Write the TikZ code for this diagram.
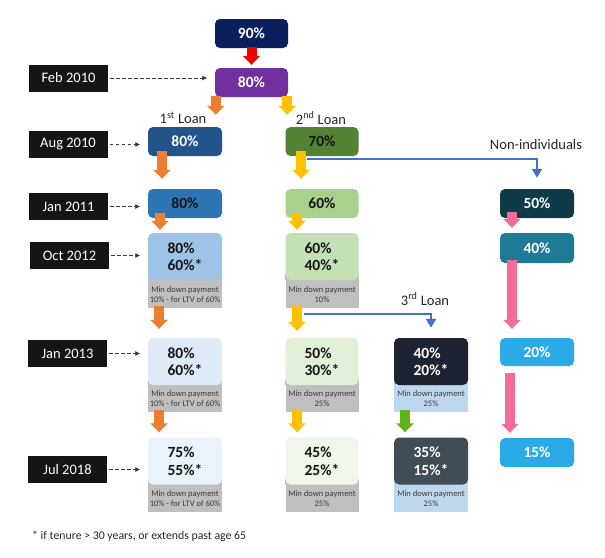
\documentclass[tikz,border=0pt]{standalone}
\usepackage{fontspec}
\setmainfont{Carlito}
\usetikzlibrary{arrows.meta}
\pgfdeclarelayer{bg}
\pgfsetlayers{bg,main}
\definecolor{labblack}{HTML}{151515}
\definecolor{navy}{HTML}{0B1F5E}
\definecolor{purp}{HTML}{7030A0}
\definecolor{redar}{HTML}{F20000}
\definecolor{orar}{HTML}{ED7D31}
\definecolor{yelar}{HTML}{FFC000}
\definecolor{grnar}{HTML}{5FB41C}
\definecolor{pinkar}{HTML}{F46A9B}
\definecolor{conblue}{HTML}{4472C4}
\definecolor{oneA}{HTML}{22538A}
\definecolor{oneB}{HTML}{2E75B6}
\definecolor{oneC}{HTML}{9DC3E6}
\definecolor{oneD}{HTML}{DEEBF7}
\definecolor{oneE}{HTML}{EAF3FB}
\definecolor{twoA}{HTML}{548235}
\definecolor{twoB}{HTML}{A9D18E}
\definecolor{twoC}{HTML}{C5E0B4}
\definecolor{twoD}{HTML}{E2F0D9}
\definecolor{twoE}{HTML}{EFF7EB}
\definecolor{thrD}{HTML}{1D2331}
\definecolor{thrE}{HTML}{424C56}
\definecolor{ltblue}{HTML}{BDD7EE}
\definecolor{graybg}{HTML}{BFBFBF}
\definecolor{nonA}{HTML}{0F3B48}
\definecolor{nonB}{HTML}{1F7A96}
\definecolor{nonC}{HTML}{2AAAE6}
\definecolor{notegray}{HTML}{3A3A3A}
\definecolor{txtdark}{HTML}{141414}
\definecolor{capgray}{HTML}{262626}
\tikzset{
  lab/.style={fill=labblack, text=white, minimum width=79pt, minimum height=27pt, inner sep=0pt, font=\fontsize{14.5}{16}\selectfont},
  pbox/.style={rounded corners=5pt, minimum height=29pt, inner sep=0pt, font=\bfseries\fontsize{15.5}{17.5}\selectfont, align=left},
  twobox/.style={pbox, minimum height=47pt},
  note/.style={inner sep=0pt, font=\fontsize{8.5}{9.8}\selectfont, text=notegray, align=center, anchor=north, minimum height=27pt},
  blk/.style={line width=10pt, -{Triangle[width=17pt,length=9pt]}},
  datt/.style={draw=notegray, line width=0.8pt, dash pattern=on 3.5pt off 2.5pt, -{Triangle[width=4.5pt,length=4.5pt]}, shorten >=8pt, shorten <=2pt},
  bluecon/.style={draw=conblue, line width=2.2pt, -{Triangle[width=10pt,length=9pt]}},
  captext/.style={font=\fontsize{14.5}{16}\selectfont, text=capgray, inner sep=0pt}
}
\begin{document}
\begin{tikzpicture}[x=1pt,y=-1pt]
\useasboundingbox (0,0) rectangle (605,557);
% date labels
\node[lab] (l1) at (68.5,78) {Feb 2010};
\node[lab] (l2) at (68,144.5) {Aug 2010};
\node[lab] (l3) at (68.5,206.5) {Jan 2011};
\node[lab] (l4) at (69.5,255.5) {Oct 2012};
\node[lab] (l5) at (67.5,353.5) {Jan 2013};
\node[lab] (l6) at (67.5,469.5) {Jul 2018};
% top
\node[pbox, fill=navy, text=white, minimum width=73pt] (b90) at (251.5,33.5) {90\%};
\node[pbox, fill=purp, text=white, minimum width=73pt] (b80) at (251.5,82.5) {80\%};
% captions
\node[captext] (cap1) at (183,118) {1\textsuperscript{st} Loan};
\node[captext] (cap2) at (321,118) {2\textsuperscript{nd} Loan};
\node[captext] (cap3) at (425,299) {3\textsuperscript{rd} Loan};
\node[captext] (cap4) at (536,145) {Non-individuals};
% column 1
\node[pbox, fill=oneA, text=white, minimum width=74pt] (a1) at (185,141.5) {80\%};
\node[pbox, fill=oneB, text=txtdark, minimum width=74pt] (a2) at (185,203.5) {80\%};
\node[twobox, fill=oneC, text=txtdark, minimum width=74pt] (a3) at (185,256.5) {80\%\\60\%*};
\node[twobox, fill=oneD, text=txtdark, minimum width=74pt] (a4) at (185,361.5) {80\%\\60\%*};
\node[twobox, fill=oneE, text=txtdark, minimum width=74pt] (a5) at (185,461) {75\%\\55\%*};
% column 2
\node[pbox, fill=twoA, text=txtdark, minimum width=73pt] (c1) at (322,141.5) {70\%};
\node[pbox, fill=twoB, text=txtdark, minimum width=73pt] (c2) at (322,203.5) {60\%};
\node[twobox, fill=twoC, text=txtdark, minimum width=73pt] (c3) at (322,256.5) {60\%\\40\%*};
\node[twobox, fill=twoD, text=txtdark, minimum width=73pt] (c4) at (322,361.5) {50\%\\30\%*};
\node[twobox, fill=twoE, text=txtdark, minimum width=73pt] (c5) at (322,461) {45\%\\25\%*};
% column 3
\node[twobox, fill=thrD, text=white, minimum width=74pt] (d4) at (431,361.5) {40\%\\20\%*};
\node[twobox, fill=thrE, text=white, minimum width=74pt] (d5) at (431,461) {35\%\\15\%*};
% column 4
\node[pbox, fill=nonA, text=white, minimum width=74pt] (n1) at (537,203.5) {50\%};
\node[pbox, fill=nonB, text=white, minimum width=74pt, minimum height=30pt] (n2) at (537,248) {40\%};
\node[pbox, fill=nonC, text=white, minimum width=74pt, minimum height=28pt] (n3) at (537,352) {20\%};
\node[pbox, fill=nonC, text=white, minimum width=74pt] (n4) at (537,452.5) {15\%};
% notes under boxes
\begin{pgfonlayer}{bg}
\node[note, fill=graybg, minimum width=74pt, minimum height=28pt] (a3g) at (a3.south) {Min down payment\\10\% - for LTV of 60\%};
\node[note, fill=graybg, minimum width=74pt] (a4g) at (a4.south) {Min down payment\\10\% - for LTV of 60\%};
\node[note, fill=graybg, minimum width=74pt] (a5g) at (a5.south) {Min down payment\\10\% - for LTV of 60\%};
\node[note, fill=graybg, minimum width=73pt, minimum height=28pt] (c3g) at (c3.south) {Min down payment\\10\%};
\node[note, fill=graybg, minimum width=73pt] (c4g) at (c4.south) {Min down payment\\25\%};
\node[note, fill=graybg, minimum width=73pt] (c5g) at (c5.south) {Min down payment\\25\%};
\node[note, fill=ltblue, minimum width=74pt] (d4g) at (d4.south) {Min down payment\\25\%};
\node[note, fill=ltblue, minimum width=74pt] (d5g) at (d5.south) {Min down payment\\25\%};
\fill[graybg] ([yshift=6pt]a3g.north west) rectangle (a3g.north east);
\fill[graybg] ([yshift=6pt]a4g.north west) rectangle (a4g.north east);
\fill[graybg] ([yshift=6pt]a5g.north west) rectangle (a5g.north east);
\fill[graybg] ([yshift=6pt]c3g.north west) rectangle (c3g.north east);
\fill[graybg] ([yshift=6pt]c4g.north west) rectangle (c4g.north east);
\fill[graybg] ([yshift=6pt]c5g.north west) rectangle (c5g.north east);
\fill[ltblue] ([yshift=6pt]d4g.north west) rectangle (d4g.north east);
\fill[ltblue] ([yshift=6pt]d5g.north west) rectangle (d5g.north east);
\end{pgfonlayer}
% dashed date arrows
\draw[datt] (l1.east) -- (l1.east -| b80.west);
\draw[datt] (l2.east) -- (l2.east -| a1.west);
\draw[datt] (l3.east) -- (l3.east -| a2.west);
\draw[datt] (l4.east) -- (l4.east -| a3.west);
\draw[datt] (l5.east) -- (l5.east -| a4.west);
\draw[datt] (l6.east) -- (l6.east -| a5.west);
% block arrows
\draw[blk, draw=redar] ([yshift=1pt]b90.south) -- ([yshift=3pt]b80.north);
\draw[blk, draw=orar] ([xshift=1pt,yshift=1pt]b80.south west) -- ([xshift=1pt,yshift=12pt]b80.south west |- a1.north);
\draw[blk, draw=yelar] ([xshift=-1pt,yshift=1pt]b80.south east) -- ([xshift=-1pt,yshift=12pt]b80.south east |- c1.north);
\draw[blk, draw=orar] ([xshift=-23pt,yshift=5pt]a1.south) -- ([xshift=-23pt,yshift=10pt]a1.south |- a2.north);
\draw[blk, draw=yelar] ([xshift=-21pt,yshift=5pt]c1.south) -- ([xshift=-21pt,yshift=10pt]c1.south |- c2.north);
\draw[blk, draw=orar] ([xshift=-25pt,yshift=5pt]a2.south) -- ([xshift=-25pt,yshift=3pt]a2.south |- a3.north);
\draw[blk, draw=yelar] ([xshift=-25pt,yshift=5pt]c2.south) -- ([xshift=-25pt,yshift=3pt]c2.south |- c3.north);
\draw[blk, draw=pinkar] ([xshift=-25pt,yshift=6pt]n1.south) -- ([xshift=-25pt,yshift=5pt]n1.south |- n2.north);
\draw[blk, draw=orar] ([xshift=-26pt,yshift=3pt]a3g.south) -- ([xshift=-26pt,yshift=9pt]a3g.south |- a4.north);
\draw[blk, draw=yelar] ([xshift=-25pt,yshift=3pt]c3g.south) -- ([xshift=-25pt,yshift=7pt]c3g.south |- c4.north);
\draw[blk, draw=pinkar] ([xshift=-25pt,yshift=3pt]n2.south) -- ([xshift=-25pt,yshift=9pt]n2.south |- n3.north);
\draw[blk, draw=orar] ([xshift=-26pt,yshift=3pt]a4g.south) -- ([xshift=-26pt,yshift=5pt]a4g.south |- a5.north);
\draw[blk, draw=yelar] ([xshift=-25pt,yshift=3pt]c4g.south) -- ([xshift=-25pt,yshift=5pt]c4g.south |- c5.north);
\draw[blk, draw=grnar] ([xshift=-26pt,yshift=3pt]d4g.south) -- ([xshift=-26pt,yshift=5pt]d4g.south |- d5.north);
\draw[blk, draw=pinkar] ([xshift=-27pt,yshift=-7pt]n3.south) -- ([xshift=-27pt,yshift=5pt]n3.south |- n4.north);
% blue connectors
\draw[bluecon] ([xshift=22pt,yshift=-3pt]c1.south west) -| ([yshift=11pt]n1.north);
\draw[bluecon] ([xshift=19pt,yshift=-5pt]c3g.south west) -| ([yshift=10pt]d4.north);
% footnote
\node[anchor=west, inner sep=0pt, font=\fontsize{11.8}{13}\selectfont, text=capgray] (foot) at (32,536) {* if tenure > 30 years, or extends past age 65};
\end{tikzpicture}
\end{document}
